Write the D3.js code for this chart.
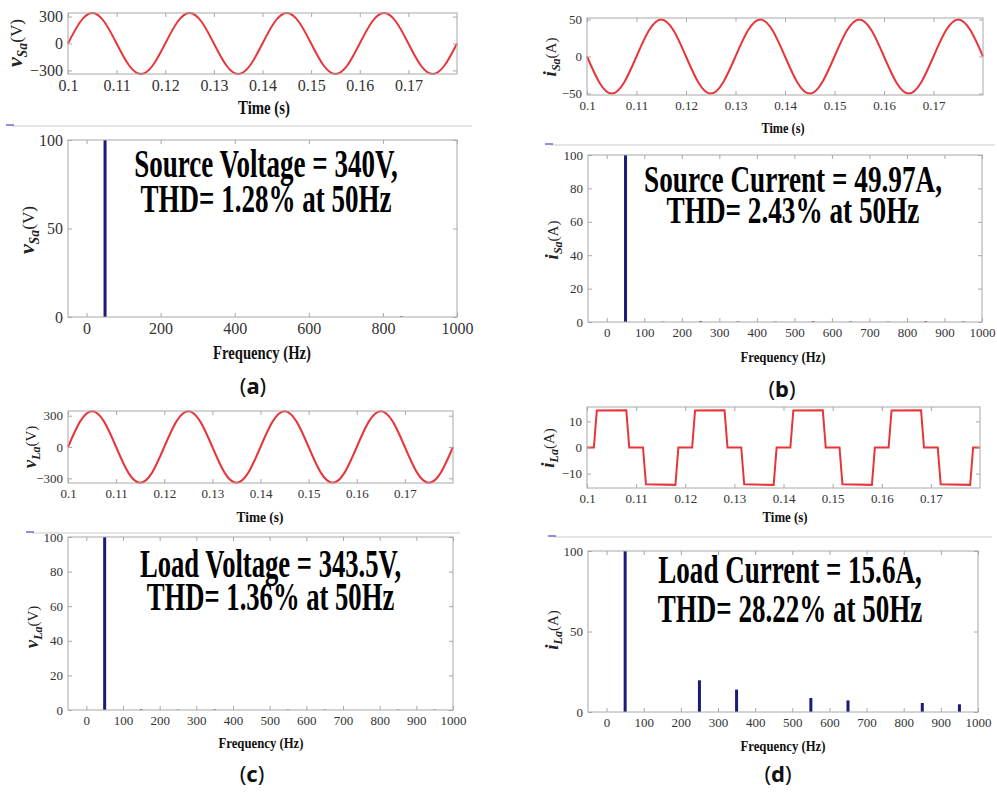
<!DOCTYPE html>
<html>
<head>
<meta charset="utf-8">
<script src="https://cdn.jsdelivr.net/npm/d3@7"></script>
<style>
  body { margin: 0; background: #fff; }
  svg { display: block; }
</style>
</head>
<body>
<script>
// ---- data ----
const timeTicks = [0.1, 0.11, 0.12, 0.13, 0.14, 0.15, 0.16, 0.17];

// waveform samples every 1/8 cycle (50 Hz)
const sineTimes = [0.1, 0.1025, 0.105, 0.1075, 0.11, 0.1125, 0.115, 0.1175,
  0.12, 0.1225, 0.125, 0.1275, 0.13, 0.1325, 0.135, 0.1375,
  0.14, 0.1425, 0.145, 0.1475, 0.15, 0.1525, 0.155, 0.1575,
  0.16, 0.1625, 0.165, 0.1675, 0.17, 0.1725, 0.175, 0.1775, 0.18];

const vSa = [0, 240, 340, 240, 0, -240, -340, -240,
  0, 240, 340, 240, 0, -240, -340, -240,
  0, 240, 340, 240, 0, -240, -340, -240,
  0, 240, 340, 240, 0, -240, -340, -240, 0];

const iSa = [0, -35, -50, -35, 0, 35, 50, 35,
  0, -35, -50, -35, 0, 35, 50, 35,
  0, -35, -50, -35, 0, 35, 50, 35,
  0, -35, -50, -35, 0, 35, 50, 35, 0];

const vLa = [0, 243, 343, 243, 0, -243, -343, -243,
  0, 243, 343, 243, 0, -243, -343, -243,
  0, 243, 343, 243, 0, -243, -343, -243,
  0, 243, 343, 243, 0, -243, -343, -243, 0];

// load current: 120 degree blocks
const iLaTimes = [0.1,
  0.1014, 0.1020, 0.1080, 0.1086, 0.1114, 0.1120, 0.1180, 0.1186,
  0.1214, 0.1220, 0.1280, 0.1286, 0.1314, 0.1320, 0.1380, 0.1386,
  0.1414, 0.1420, 0.1480, 0.1486, 0.1514, 0.1520, 0.1580, 0.1586,
  0.1614, 0.1620, 0.1680, 0.1686, 0.1714, 0.1720, 0.1780, 0.1786, 0.18];
const iLa = [0,
  0, 14.2, 14.3, 0, 0, -14.1, -14.3, 0,
  0, 14.2, 14.3, 0, 0, -14.1, -14.3, 0,
  0, 14.2, 14.3, 0, 0, -14.1, -14.3, 0,
  0, 14.2, 14.3, 0, 0, -14.1, -14.3, 0, 0];

// harmonic spectra (% of fundamental)
const vSaFreq = [50, 850];
const vSaMag = [100, 0.3];
const iSaFreq = [50, 150, 250, 350, 450, 550, 650, 750, 850, 950];
const iSaMag = [100, 0.2, 0.5, 0.3, 0.2, 0.4, 0.3, 0.2, 0.4, 0.3];
const vLaFreq = [50, 150, 250, 350, 550, 650, 850, 950];
const vLaMag = [100, 0.4, 0.2, 0.3, 0.2, 0.2, 0.2, 0.2];
const iLaFreq = [50, 250, 350, 550, 650, 850, 950];
const iLaMag = [100, 19.7, 13.9, 8.7, 7.2, 5.6, 4.8];

const freqTicksWide = [0, 200, 400, 600, 800, 1000];
const freqTicks = [0, 100, 200, 300, 400, 500, 600, 700, 800, 900, 1000];

const notesA = ["Source Voltage = 340V,", "THD= 1.28% at 50Hz"];
const notesB = ["Source Current = 49.97A,", "THD= 2.43% at 50Hz"];
const notesC = ["Load Voltage = 343.5V,", "THD= 1.36% at 50Hz"];
const notesD = ["Load Current = 15.6A,", "THD= 28.22% at 50Hz"];

const width = 997;
const height = 792;
const red = "#e8353a";
const navy = "#1b1b78";
const boxColor = "#a8a8a8";

const svg = d3.select("body").append("svg")
  .attr("width", width)
  .attr("height", height)
  .style("font-family", "'Liberation Serif', 'Times New Roman', serif");

// text squeezed horizontally to the width it has in the figure
function fitText(g, txt, x, y, w, size, weight) {
  const t = g.append("text")
    .attr("text-anchor", "middle")
    .style("font-size", size + "px")
    .style("font-weight", weight || "bold")
    .style("fill", "#111")
    .text(txt);
  const natural = t.node().getComputedTextLength();
  t.attr("transform", `translate(${x},${y}) scale(${w / natural},1)`);
  return t;
}

// two-line bold note, centred, squeezed like the original (b1, b2 = baselines)
function note(g, lines, cx, b1, b2, w1, w2, size) {
  const t = g.append("text")
    .attr("text-anchor", "middle")
    .style("font-size", size + "px")
    .style("font-weight", "bold")
    .style("fill", "#000");
  const spans = lines.map((s, i) => t.append("tspan")
    .attr("x", 0)
    .attr("y", i === 0 ? 0 : b2 - b1)
    .text(s));
  const k = (w1 / spans[0].node().getComputedTextLength() +
             w2 / spans[1].node().getComputedTextLength()) / 2;
  t.attr("transform", `translate(${cx},${b1}) scale(${k},1)`);
}

function yLabel(g, x, cy, sym, sub, unit, big) {
  const s = big ? 1.15 : 1;
  const t = g.append("text")
    .attr("transform", `translate(${x},${cy}) rotate(-90)`)
    .attr("text-anchor", "middle")
    .style("fill", "#222");
  t.append("tspan").text(sym)
    .style("font-weight", "bold").style("font-style", "italic")
    .style("font-size", (19 * s) + "px");
  t.append("tspan").text(sub).attr("dy", 4 * s)
    .style("font-weight", "bold").style("font-style", "italic")
    .style("font-size", (12 * s) + "px");
  t.append("tspan").text(unit).attr("dy", -4 * s)
    .style("font-size", (15 * s) + "px");
}

// MATLAB style box with inward ticks on all sides
function boxAxes(g, x, y, xTicks, yTicks, xFmt, fontSize) {
  const [x0, x1] = x.range();
  const [y1, y0] = y.range();

  g.append("g").attr("transform", `translate(0,${y1})`)
    .call(d3.axisBottom(x).tickValues(xTicks).tickSizeInner(-4).tickSizeOuter(0)
      .tickPadding(6).tickFormat(xFmt));
  g.append("g").attr("transform", `translate(0,${y0})`)
    .call(d3.axisTop(x).tickValues(xTicks).tickSizeInner(-4).tickSizeOuter(0).tickFormat(""));
  g.append("g").attr("transform", `translate(${x0},0)`)
    .call(d3.axisLeft(y).tickValues(yTicks).tickSizeInner(-4).tickSizeOuter(0).tickPadding(5));
  g.append("g").attr("transform", `translate(${x1},0)`)
    .call(d3.axisRight(y).tickValues(yTicks).tickSizeInner(-4).tickSizeOuter(0).tickFormat(""));

  g.selectAll(".domain").remove();
  g.selectAll(".tick line").attr("stroke", boxColor);
  g.selectAll(".tick text")
    .style("font-family", "'Liberation Serif', serif")
    .style("font-size", fontSize + "px")
    .style("fill", "#333");

  g.append("rect")
    .attr("x", x0).attr("y", y0)
    .attr("width", x1 - x0).attr("height", y1 - y0)
    .attr("fill", "none").attr("stroke", boxColor);
}

function drawTime(c) {
  const g = svg.append("g");
  const x = d3.scaleLinear().domain([0.1, 0.18]).range([c.x0, c.x1]);
  const y = d3.scaleLinear().domain(c.yDomain).range([c.y1, c.y0]);

  const line = d3.line()
    .x((d, i) => x(c.times[i]))
    .y(d => y(d))
    .curve(c.curve);

  g.append("path")
    .datum(c.values)
    .attr("d", line)
    .attr("fill", "none")
    .attr("stroke", red)
    .attr("stroke-width", 2);

  boxAxes(g, x, y, timeTicks, c.yTicks, d => String(d), c.tickFont);
  fitText(g, "Time (s)", c.label[0], c.label[1], c.label[2], c.labelSize);
  yLabel(g, c.ylab[0], c.ylab[1], c.sym, c.sub, c.unit, c.big);
}

function drawSpectrum(c) {
  const g = svg.append("g");
  const x = d3.scaleLinear().domain([-50, 1000]).range([c.x0, c.x1]);
  const y = d3.scaleLinear().domain([0, 100]).range([c.y1, c.y0]);

  g.selectAll("rect.bar")
    .data(c.freq)
    .enter()
    .append("rect")
    .attr("class", "bar")
    .attr("x", d => x(d) - 1.5)
    .attr("width", 3)
    .attr("y", (d, i) => y(c.mag[i]))
    .attr("height", (d, i) => y(0) - y(c.mag[i]))
    .attr("fill", navy);

  boxAxes(g, x, y, c.xTicks, c.yTicks, d => String(d), c.tickFont);
  fitText(g, "Frequency (Hz)", c.label[0], c.label[1], c.label[2], c.labelSize);
  yLabel(g, c.ylab[0], c.ylab[1], c.sym, c.sub, c.unit, c.big);

  const n = c.note;
  note(g, c.lines, n[0], n[1], n[2], n[3], n[4], n[5]);
}

function separator(x0, x1, yy) {
  svg.append("line")
    .attr("x1", x0).attr("x2", x1).attr("y1", yy).attr("y2", yy)
    .attr("stroke", "#dcdcdc").attr("stroke-width", 1.5);
  svg.append("line")
    .attr("x1", x0 - 6).attr("x2", x0 + 2).attr("y1", yy - 1).attr("y2", yy - 1)
    .attr("stroke", "#6b6bd8").attr("stroke-width", 1.5);
}

function caption(letter, cx, cy) {
  const t = svg.append("text")
    .attr("x", cx).attr("y", cy + 7)
    .attr("text-anchor", "middle")
    .style("font-family", "'Noto Sans', 'Open Sans', sans-serif")
    .style("font-size", "22px")
    .style("fill", "#111");
  t.append("tspan").text("(");
  t.append("tspan").text(letter).style("font-weight", "bold");
  t.append("tspan").text(")");
}

// ---- panel (a): source voltage ----
drawTime({
  x0: 68, x1: 457, y0: 13, y1: 74,
  times: sineTimes, values: vSa, curve: d3.curveNatural,
  yDomain: [-340, 340], yTicks: [-300, 0, 300], tickFont: 16,
  label: [264, 114, 52], labelSize: 19,
  ylab: [22, 43], sym: "v", sub: "Sa", unit: "(V)", big: true
});
separator(12, 472, 126);
drawSpectrum({
  x0: 68, x1: 457, y0: 140, y1: 317,
  freq: vSaFreq, mag: vSaMag,
  xTicks: freqTicksWide, yTicks: [0, 50, 100], tickFont: 16,
  label: [262, 359, 98], labelSize: 19,
  ylab: [34, 230], sym: "v", sub: "Sa", unit: "(V)", big: true,
  lines: notesA, note: [266, 176.5, 211.5, 267, 248, 40]
});
caption("a", 253, 387);

// ---- panel (b): source current ----
drawTime({
  x0: 587, x1: 983, y0: 18, y1: 95,
  times: sineTimes, values: iSa, curve: d3.curveNatural,
  yDomain: [-52, 52], yTicks: [-50, 0, 50], tickFont: 13,
  label: [783, 133, 43], labelSize: 15,
  ylab: [556, 57], sym: "i", sub: "Sa", unit: "(A)", big: false
});
separator(551, 995, 145);
drawSpectrum({
  x0: 588, x1: 982, y0: 155, y1: 322,
  freq: iSaFreq, mag: iSaMag,
  xTicks: freqTicks, yTicks: [0, 20, 40, 60, 80, 100], tickFont: 13,
  label: [783, 362, 85], labelSize: 15,
  ylab: [558, 240], sym: "i", sub: "Sa", unit: "(A)", big: false,
  lines: notesB, note: [793, 191.7, 223.3, 299, 252, 38]
});
caption("b", 782, 390);

// ---- panel (c): load voltage ----
drawTime({
  x0: 68, x1: 453, y0: 411, y1: 483,
  times: sineTimes, values: vLa, curve: d3.curveNatural,
  yDomain: [-345, 345], yTicks: [-300, 0, 300], tickFont: 13,
  label: [260, 522, 47], labelSize: 15,
  ylab: [36, 447], sym: "v", sub: "La", unit: "(V)", big: false
});
separator(32, 460, 533);
drawSpectrum({
  x0: 68, x1: 453, y0: 537, y1: 710,
  freq: vLaFreq, mag: vLaMag,
  xTicks: freqTicks, yTicks: [0, 20, 40, 60, 80, 100], tickFont: 13,
  label: [261, 748, 85], labelSize: 15,
  ylab: [38, 627], sym: "v", sub: "La", unit: "(V)", big: false,
  lines: notesC, note: [270.5, 576.7, 610, 265, 244, 40]
});
caption("c", 252, 775);

// ---- panel (d): load current ----
drawTime({
  x0: 587, x1: 980, y0: 407, y1: 488,
  times: iLaTimes, values: iLa, curve: d3.curveLinear,
  yDomain: [-15.5, 15.5], yTicks: [-10, 0, 10], tickFont: 13,
  label: [785, 522, 45], labelSize: 15,
  ylab: [554, 448], sym: "i", sub: "La", unit: "(A)", big: false
});
separator(554, 992, 537);
drawSpectrum({
  x0: 588, x1: 978, y0: 551, y1: 712,
  freq: iLaFreq, mag: iLaMag,
  xTicks: freqTicks, yTicks: [0, 50, 100], tickFont: 13,
  label: [783, 751, 85], labelSize: 15,
  ylab: [558, 630], sym: "i", sub: "La", unit: "(A)", big: false,
  lines: notesD, note: [790, 583.3, 621.7, 264, 264, 40]
});
caption("d", 778, 775);
</script>
</body>
</html>
